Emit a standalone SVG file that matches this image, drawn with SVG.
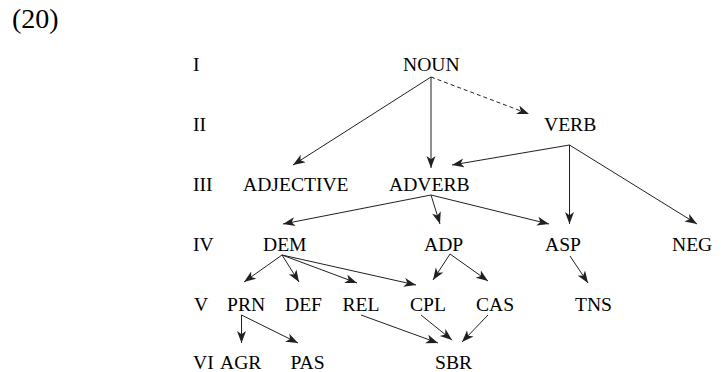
<svg xmlns="http://www.w3.org/2000/svg" width="725" height="372" viewBox="0 0 725 372">
<style>
.e{fill:none;stroke:#231f20;stroke-width:1;marker-end:url(#ah)}
.d{stroke-dasharray:4 3}
</style>
<defs>
<marker id="ah" markerUnits="userSpaceOnUse" markerWidth="14" markerHeight="10" refX="12" refY="4.5" orient="auto">
<path d="M0,0 L12,4.5 L0,9 L3.2,4.5 z" fill="#231f20"/>
</marker>
</defs>
<rect width="725" height="372" fill="#fff"/>
<text font-family="Liberation Serif" font-size="28" x="12" y="28">(20)</text>
<g id="levels">
<text font-family="Liberation Serif" font-size="19.6" x="193" y="71">I</text>
<text font-family="Liberation Serif" font-size="19.6" x="193" y="131">II</text>
<text font-family="Liberation Serif" font-size="19.6" x="193" y="190.5">III</text>
<text font-family="Liberation Serif" font-size="19.6" x="193" y="250.5">IV</text>
<text font-family="Liberation Serif" font-size="19.6" x="194" y="310.5">V</text>
<text font-family="Liberation Serif" font-size="19.6" x="193" y="369">VI</text>
</g>
<g id="noun"><text font-family="Liberation Serif" font-size="19.6" x="403" y="71">NOUN</text></g>
<g id="verb"><text font-family="Liberation Serif" font-size="19.6" x="544" y="131">VERB</text></g>
<g id="adjective"><text font-family="Liberation Serif" font-size="19.6" x="243" y="190.5">ADJECTIVE</text></g>
<g id="adverb"><text font-family="Liberation Serif" font-size="19.6" x="389" y="190.5">ADVERB</text></g>
<g id="dem"><text font-family="Liberation Serif" font-size="19.6" x="263" y="250.5">DEM</text></g>
<g id="adp"><text font-family="Liberation Serif" font-size="19.6" x="424" y="250.5">ADP</text></g>
<g id="asp"><text font-family="Liberation Serif" font-size="19.6" x="545" y="250.5">ASP</text></g>
<g id="neg"><text font-family="Liberation Serif" font-size="19.6" x="672" y="250.5">NEG</text></g>
<g id="prn"><text font-family="Liberation Serif" font-size="19.6" x="227" y="310.5">PRN</text></g>
<g id="def"><text font-family="Liberation Serif" font-size="19.6" x="285" y="310.5">DEF</text></g>
<g id="rel"><text font-family="Liberation Serif" font-size="19.6" x="342.5" y="310.5">REL</text></g>
<g id="cpl"><text font-family="Liberation Serif" font-size="19.6" x="410" y="310.5">CPL</text></g>
<g id="cas"><text font-family="Liberation Serif" font-size="19.6" x="476" y="310.5">CAS</text></g>
<g id="tns"><text font-family="Liberation Serif" font-size="19.6" x="575" y="310.5">TNS</text></g>
<g id="agr"><text font-family="Liberation Serif" font-size="19.6" x="220" y="369">AGR</text></g>
<g id="pas"><text font-family="Liberation Serif" font-size="19.6" x="290.5" y="369">PAS</text></g>
<g id="sbr"><text font-family="Liberation Serif" font-size="19.6" x="435" y="369">SBR</text></g>
<g id="connectors">
<line class="e" x1="431" y1="77" x2="293" y2="165"/>
<line class="e" x1="431" y1="77" x2="431" y2="168"/>
<line class="e d" x1="431" y1="77" x2="529" y2="114"/>
<line class="e" x1="569.5" y1="145" x2="452" y2="165"/>
<line class="e" x1="569.5" y1="145" x2="569.5" y2="224"/>
<line class="e" x1="569.5" y1="145" x2="697" y2="224"/>
<line class="e" x1="431" y1="195" x2="283" y2="224"/>
<line class="e" x1="431" y1="195" x2="440" y2="224"/>
<line class="e" x1="431" y1="195" x2="549" y2="224"/>
<line class="e" x1="282" y1="255" x2="244" y2="282"/>
<line class="e" x1="282" y1="255" x2="299" y2="282"/>
<line class="e" x1="282" y1="255" x2="357" y2="283"/>
<line class="e" x1="282" y1="255" x2="416" y2="285"/>
<line class="e" x1="450" y1="254" x2="433" y2="280"/>
<line class="e" x1="450" y1="254" x2="488" y2="281"/>
<line class="e" x1="570" y1="256" x2="588" y2="283"/>
<line class="e" x1="241.5" y1="315" x2="241.5" y2="343"/>
<line class="e" x1="241.5" y1="315" x2="298" y2="343"/>
<line class="e" x1="361" y1="315" x2="438" y2="343"/>
<line class="e" x1="421" y1="315" x2="452" y2="340"/>
<line class="e" x1="488" y1="315" x2="462" y2="342"/>
</g>
</svg>
